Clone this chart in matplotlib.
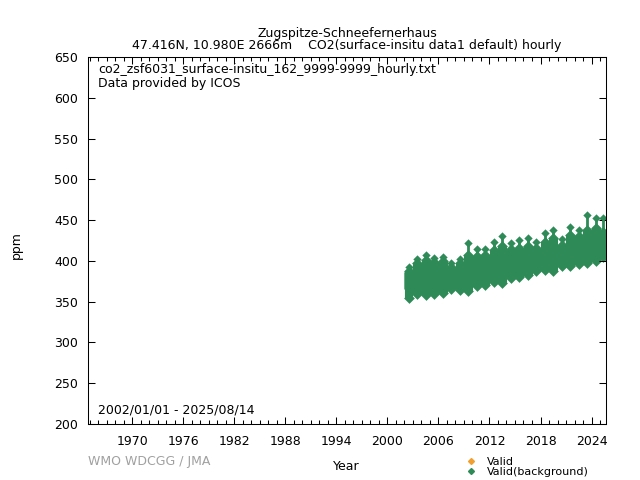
import matplotlib.pyplot as plt
from matplotlib.lines import Line2D
from matplotlib.ticker import FixedLocator, MultipleLocator

# years of the record (2025 ends in August)
years = [2002, 2003, 2004, 2005, 2006, 2007, 2008, 2009, 2010, 2011, 2012, 2013,
         2014, 2015, 2016, 2017, 2018, 2019, 2020, 2021, 2022, 2023, 2024, 2025]

# highest hourly spike of each year (ppm)
peak = [392, 402, 407, 404, 405, 397, 402, 422, 415, 415, 423, 430,
        422, 425, 428, 423, 434, 438, 427, 441, 438, 456, 453, 452]
# top of the dense column of each year (ppm)
col_top = [388, 397, 401, 399, 400, 393, 397, 407, 406, 407, 413, 418,
           414, 416, 418, 416, 423, 428, 420, 432, 430, 438, 440, 436]
# lowest hourly value of each year (ppm)
trough = [355, 360, 358, 360, 361, 365, 364, 363, 369, 370, 374, 373,
          379, 380, 383, 388, 389, 388, 394, 394, 396, 398, 400, 405]

# band between the yearly columns (start, each new year, end of record)
gap_t = [2002.0, 2003, 2004, 2005, 2006, 2007, 2008, 2009, 2010, 2011, 2012, 2013,
         2014, 2015, 2016, 2017, 2018, 2019, 2020, 2021, 2022, 2023, 2024, 2025, 2025.62]
gap_hi = [386, 389, 393, 395, 394, 390, 391, 396, 401, 401, 404, 409,
          409, 410, 412, 411, 413, 419, 416, 418, 425, 427, 432, 431, 432]
gap_lo = [366, 366, 366, 367, 368, 370, 371, 370, 375, 376, 379, 380,
          384, 386, 389, 392, 394, 394, 399, 400, 401, 403, 405, 409, 408]

x_ticks = [1970, 1976, 1982, 1988, 1994, 2000, 2006, 2012, 2018, 2024]

green = '#2e8b57'

centers = [y + 0.5 for y in years[:-1]] + [2025.3]
widths = [0.9] * (len(years) - 1) + [0.64]
heights = [a - b for a, b in zip(col_top, trough)]

fig = plt.figure(figsize=(6.4, 4.8), dpi=100)
ax = fig.add_axes([88 / 640, 56 / 480, 518 / 640, 367 / 480])

ax.fill_between(gap_t, gap_lo, gap_hi, color=green, edgecolor=green, lw=0.8)
ax.bar(centers, heights, bottom=trough, width=widths, color=green,
       edgecolor=green, lw=0.8)
ax.scatter(centers, col_top, marker='D', s=30, color=green, lw=0)
ax.scatter(centers, trough, marker='D', s=30, color=green, lw=0)
ax.vlines(centers, col_top, peak, color=green, lw=2)
ax.scatter(centers, peak, marker='D', s=18, color=green, lw=0)

ax.set_xlim(1964.8, 2025.7)
ax.set_ylim(200, 650)
ax.xaxis.set_major_locator(FixedLocator(x_ticks))
ax.xaxis.set_minor_locator(MultipleLocator(1))
ax.yaxis.set_major_locator(MultipleLocator(50))
ax.tick_params(which='both', direction='in', top=True, right=True, labelsize=9, width=0.75)
ax.tick_params(which='major', length=5)
ax.tick_params(which='minor', length=3)
ax.tick_params(axis='x', pad=8)
ax.tick_params(axis='y', pad=7)
for s in ax.spines.values():
    s.set_linewidth(0.75)

ax.text(10 / 518, 1 - 12 / 367, 'co2_zsf6031_surface-insitu_162_9999-9999_hourly.txt',
        transform=ax.transAxes, fontsize=9, va='center')
ax.text(10 / 518, 1 - 27 / 367, 'Data provided by ICOS',
        transform=ax.transAxes, fontsize=9, va='center')
ax.text(10 / 518, 14 / 367, '2002/01/01 - 2025/08/14',
        transform=ax.transAxes, fontsize=9, va='center')

fig.text(347 / 640, 1 - 33 / 480, 'Zugspitze-Schneefernerhaus',
         ha='center', va='center', fontsize=9)
fig.text(347 / 640, 1 - 46 / 480,
         '47.416N, 10.980E 2666m    CO2(surface-insitu data1 default) hourly',
         ha='center', va='center', fontsize=9)
fig.text(16 / 640, 1 - 245 / 480, 'ppm', rotation=90, ha='center', va='center', fontsize=9)
fig.text(346 / 640, 1 - 467 / 480, 'Year', ha='center', va='center', fontsize=9)
fig.text(88 / 640, 1 - 462 / 480, 'WMO WDCGG / JMA', ha='left', va='center',
         fontsize=9, color='#a0a0a0')

handles = [Line2D([], [], ls='', marker='D', ms=3, color='#f0a030'),
           Line2D([], [], ls='', marker='D', ms=3, color=green)]
fig.legend(handles, ['Valid', 'Valid(background)'], loc='upper left',
           bbox_to_anchor=(459 / 640, 1 - 451 / 480), frameon=False, fontsize=8,
           handlelength=1.2, handletextpad=0.8, labelspacing=0.05, borderpad=0)

fig.savefig('out.png', dpi=100)
